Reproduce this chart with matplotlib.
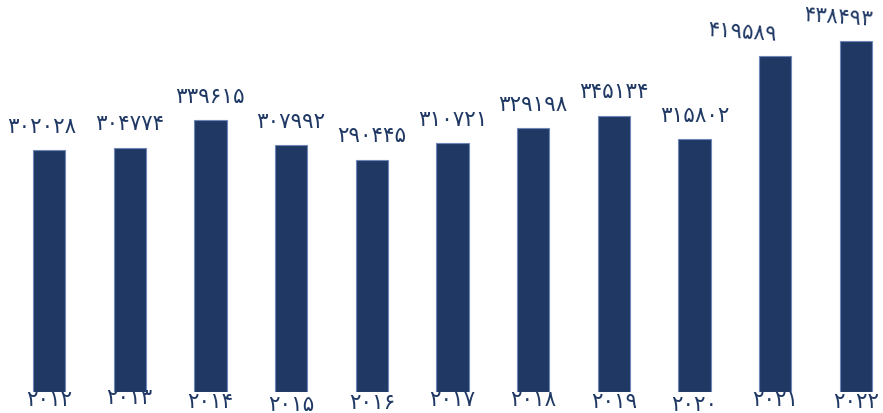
import matplotlib.pyplot as plt

years = [2012, 2013, 2014, 2015, 2016, 2017, 2018, 2019, 2020, 2021, 2022]
values = [302028, 304774, 339615, 307992, 290445, 310721, 329198, 345134, 315802, 419589, 438493]

# small label nudges seen in the reference (points)
value_dx = [-5, 0, 0, 0, 0, 0, 0, 0, 0, -24, -13]
value_rot = [0, 0, 0, 0, 0, 0, 0, 0, 0, -4, -4]
year_dy = [-6, -4, -7, -9, -8, -6, -6, -7, -9, -6, -7]

navy = '#1f3864'
fa = str.maketrans('0123456789', '۰۱۲۳۴۵۶۷۸۹')


def to_fa(n):
    return str(n).translate(fa)


if __name__ == '__main__':
    fig = plt.figure(figsize=(8.83, 4.13), dpi=100)
    ax = fig.add_axes([0, 0.0508, 1, 0.9492])
    xs = list(range(len(years)))
    ax.bar(xs, values, width=0.4, color=navy, edgecolor='#6f86b8', linewidth=0.8)
    ax.set_xlim(-0.607, 10.334)
    ax.set_ylim(0, 489700)
    ax.axis('off')

    for i, v in enumerate(values):
        ax.annotate(to_fa(v), (i, v), xytext=(value_dx[i], 17), textcoords='offset points',
                    ha='center', va='center', fontsize=15.5, color=navy,
                    rotation=value_rot[i], family='DejaVu Sans')
        ax.annotate(to_fa(years[i]), (i, 0), xytext=(0, year_dy[i]), textcoords='offset points',
                    ha='center', va='center', fontsize=15.5, color=navy,
                    family='DejaVu Sans', annotation_clip=False)

    plt.savefig('out.png')
